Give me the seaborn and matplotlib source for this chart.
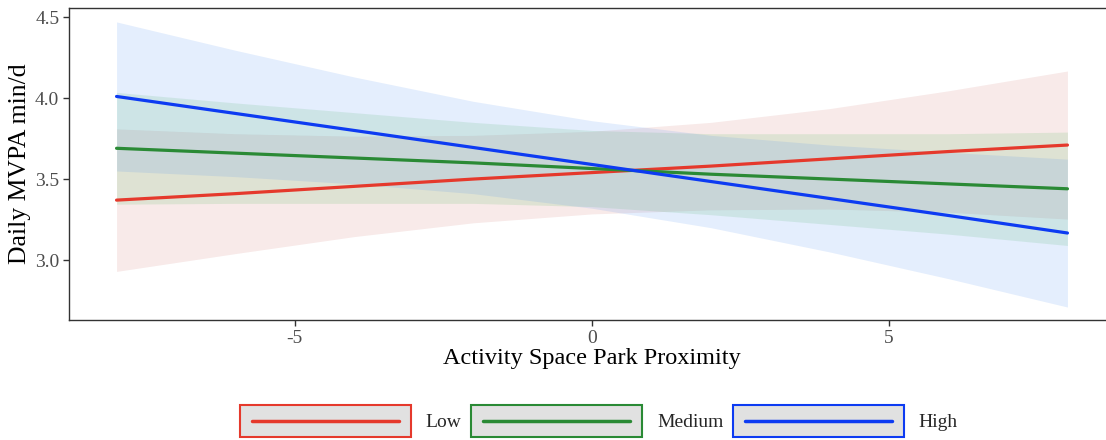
import numpy as np
import pandas as pd
import matplotlib
matplotlib.use("Agg")
import matplotlib.pyplot as plt
from matplotlib.legend_handler import HandlerBase
from matplotlib.patches import Rectangle
from matplotlib.lines import Line2D
import seaborn as sns

# Predicted daily MVPA across activity space park proximity, by group
proximity = [-8, -6, -4, -2, 0, 2, 4, 6, 8]
groups = ["Low", "Medium", "High"]

low_fit = [3.37, 3.41, 3.455, 3.50, 3.54, 3.58, 3.625, 3.67, 3.71]
low_lower = [2.93, 3.04, 3.145, 3.23, 3.285, 3.31, 3.315, 3.295, 3.253]
low_upper = [3.81, 3.78, 3.765, 3.77, 3.795, 3.85, 3.935, 4.045, 4.167]

medium_fit = [3.69, 3.66, 3.63, 3.60, 3.565, 3.53, 3.50, 3.47, 3.44]
medium_lower = [3.345, 3.35, 3.35, 3.35, 3.33, 3.28, 3.22, 3.16, 3.09]
medium_upper = [4.035, 3.97, 3.91, 3.85, 3.80, 3.78, 3.78, 3.78, 3.79]

high_fit = [4.01, 3.905, 3.80, 3.695, 3.59, 3.485, 3.38, 3.275, 3.167]
high_lower = [3.55, 3.515, 3.47, 3.41, 3.32, 3.20, 3.05, 2.885, 2.71]
high_upper = [4.47, 4.295, 4.13, 3.98, 3.86, 3.77, 3.71, 3.665, 3.623]

x_ticks = [-5, 0, 5]
y_ticks = [3.0, 3.5, 4.0, 4.5]

line_colors = {"Low": "#E5392C", "Medium": "#2A8A35", "High": "#0D3BF2"}
band_colors = {"Low": "#D0736C", "Medium": "#4BB956", "High": "#4B8EF2"}

frames = []
for g, fit, lo, hi in [("Low", low_fit, low_lower, low_upper),
                       ("Medium", medium_fit, medium_lower, medium_upper),
                       ("High", high_fit, high_lower, high_upper)]:
    frames.append(pd.DataFrame({"proximity": proximity, "mvpa": fit,
                                "lower": lo, "upper": hi, "group": g}))
df = pd.concat(frames, ignore_index=True)

sns.set_theme(style="white")
plt.rcParams["font.family"] = ["Liberation Serif", "DejaVu Serif"]
plt.rcParams["axes.unicode_minus"] = False

fig = plt.figure(figsize=(11.06, 4.40), dpi=100)
W, H = 1106, 440
ax = fig.add_axes([69 / W, 1 - 320 / H, (1115 - 69) / W, (320 - 8) / H])

for g in groups:
    sub = df[df["group"] == g]
    ax.fill_between(sub["proximity"], sub["lower"], sub["upper"],
                    color=band_colors[g], alpha=0.15, linewidth=0, zorder=1)

sns.lineplot(data=df, x="proximity", y="mvpa", hue="group", hue_order=groups,
             palette=line_colors, linewidth=2.3, legend=False, ax=ax, zorder=3)

ax.set_xlim(-8.8, 8.8)
ax.set_ylim(2.63, 4.556)
ax.set_xticks(x_ticks)
ax.set_xticklabels([str(t) for t in x_ticks])
ax.set_yticks(y_ticks)
ax.set_yticklabels([f"{t:.1f}" for t in y_ticks])
ax.tick_params(axis="both", which="major", direction="out", length=4, width=1,
               color="#333333", labelsize=14, labelcolor="#4D4D4D", pad=3,
               bottom=True, left=True)
for side in ["left", "bottom", "top"]:
    ax.spines[side].set_color("#333333")
    ax.spines[side].set_linewidth(1.0)
ax.spines["right"].set_visible(False)
ax.grid(False)

ax.set_xlabel("Activity Space Park Proximity", fontsize=17.5, color="black", labelpad=1)
ax.set_ylabel("Daily MVPA min/d", fontsize=18.5, color="black", labelpad=3)


class KeyHandler(HandlerBase):
    """Grey key box with a coloured border and an inset coloured line."""

    def __init__(self, color):
        super().__init__()
        self.color = color

    def create_artists(self, legend, orig_handle, xdescent, ydescent,
                       width, height, fontsize, trans):
        rect = Rectangle((-xdescent, -ydescent), width, height,
                         facecolor="#E1E1E1", edgecolor=self.color,
                         linewidth=1.5, transform=trans)
        inset = width * 0.07
        y = -ydescent + height / 2
        line = Line2D([-xdescent + inset, -xdescent + width - inset], [y, y],
                      color=self.color, linewidth=2.5, transform=trans)
        return [rect, line]


handles = [Line2D([], [], color=line_colors[g]) for g in groups]
handler_map = {h: KeyHandler(line_colors[g]) for h, g in zip(handles, groups)}
fig.legend(handles, groups, handler_map=handler_map, loc="center",
           bbox_to_anchor=(599 / W, 1 - 421 / H), ncol=3, frameon=False,
           fontsize=14, handlelength=8.8, handleheight=2.15,
           handletextpad=0.75, columnspacing=0.5, borderpad=0)

fig.savefig("out.png", dpi=100)
